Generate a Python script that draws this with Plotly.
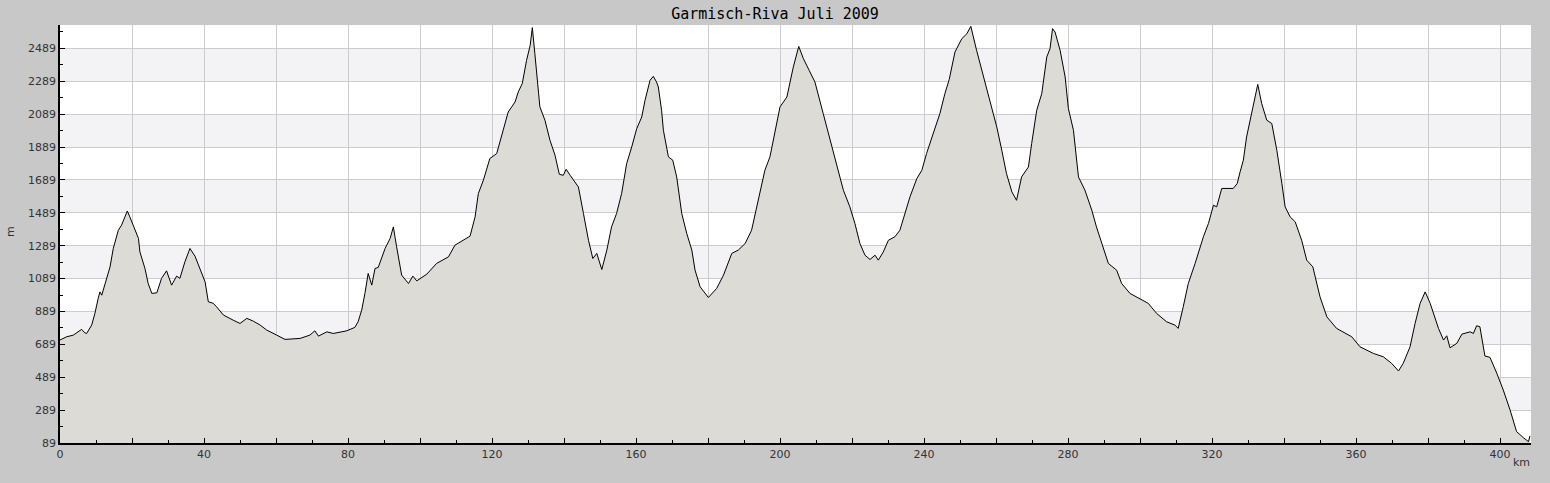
import plotly.graph_objects as go

# distance along the route (km)
km = [0, 1.85, 3.7, 5.6, 6.0, 6.9, 7.4, 8.8, 9.7, 10.6, 11.1, 11.6, 12.5, 13.9, 14.8, 16.2, 17.1, 18.1, 18.7, 19.4,
      20.8, 21.8, 22.2, 23.6, 24.5, 25.5, 26.9, 28.2, 29.6, 31.0, 32.4, 33.3, 34.7, 36.1, 37.5, 38.9, 40.3, 41.2, 42.6, 43.5,
      45.4, 48.1, 50.0, 51.9, 53.7, 55.6, 57.4, 60.2, 62.5, 66.7, 69.4, 70.8, 71.8, 74.1, 75.9, 79.6, 81.9, 82.8, 83.8, 84.7,
      85.6, 86.6, 87.5, 88.4, 90.3, 91.7, 92.6, 93.5, 94.9, 96.8, 98.0, 99.1, 101.9, 104.6, 107.9, 109.7, 111.1, 113.9, 115.3, 116.2,
      117.6, 119.4, 121.3, 122.7, 124.5, 126.4, 127.3, 128.4, 129.6, 130.6, 131.2, 131.9, 133.3, 134.7, 136.1, 137.5, 138.7, 139.8, 140.6, 141.7,
      144.0, 145.4, 146.8, 148.0, 149.1, 150.5, 151.9, 153.2, 154.6, 156.0, 157.4, 158.8, 160.2, 161.6, 162.5, 163.9, 164.8, 165.7, 166.2, 167.1,
      167.6, 169.0, 170.2, 171.3, 172.7, 174.1, 175.5, 176.4, 177.8, 180.1, 182.4, 184.3, 186.6, 188.4, 190.3, 192.1, 193.5, 195.8, 197.2, 198.6,
      200.0, 201.9, 203.7, 205.2, 206.5, 208.1, 209.7, 212.0, 213.9, 215.7, 217.6, 219.4, 220.8, 222.2, 223.6, 225.0, 226.4, 227.3, 228.7, 230.1,
      231.9, 233.3, 234.7, 236.1, 238.0, 239.4, 240.7, 242.6, 244.4, 245.8, 247.0, 248.6, 250.5, 251.9, 253.0, 254.6, 256.5, 258.3, 260.2, 261.6,
      262.9, 264.4, 265.7, 267.1, 269.0, 269.9, 271.3, 272.7, 274.1, 275.0, 275.7, 276.4, 277.8, 279.2, 280.1, 281.5, 282.9, 284.7, 286.6, 287.9,
      289.8, 291.2, 293.5, 294.9, 297.2, 300.0, 302.3, 304.6, 307.4, 309.7, 310.6, 312.0, 313.4, 315.3, 317.6, 319.0, 320.4, 321.3, 322.7, 325.9,
      327.0, 327.8, 328.7, 329.6, 331.0, 332.7, 333.8, 335.2, 336.6, 338.0, 339.4, 340.3, 341.7, 343.1, 344.9, 346.3, 348.0, 350.0, 351.9, 354.6,
      358.8, 361.1, 364.8, 367.6, 369.9, 371.8, 373.1, 375.0, 376.4, 377.8, 379.2, 380.6, 382.9, 384.3, 385.2, 386.1, 388.0, 389.4, 391.7, 392.6,
      393.5, 394.4, 395.8, 397.2, 399.1, 400.9, 402.8, 404.6, 406.5, 407.9, 408.3]

# elevation (m)
elev = [715, 735, 745, 776, 780, 759, 755, 806, 877, 968, 1008, 988, 1059, 1160, 1272, 1383, 1414, 1474, 1500, 1464,
        1383, 1333, 1251, 1150, 1059, 999, 1002, 1090, 1136, 1049, 1104, 1090, 1191, 1272, 1225, 1150, 1069, 948, 938, 917,
        867, 836, 816, 847, 830, 806, 776, 745, 719, 725, 745, 771, 739, 765, 755, 771, 792, 826, 897, 999,
        1120, 1049, 1150, 1157, 1272, 1333, 1403, 1282, 1110, 1059, 1104, 1075, 1116, 1181, 1221, 1292, 1312, 1347, 1464, 1606,
        1687, 1819, 1849, 1960, 2102, 2163, 2224, 2275, 2416, 2507, 2615, 2457, 2133, 2052, 1930, 1839, 1723, 1717, 1754, 1717,
        1646, 1485, 1322, 1211, 1242, 1144, 1262, 1403, 1485, 1606, 1788, 1889, 2001, 2072, 2173, 2295, 2319, 2284, 2254, 2112,
        1991, 1829, 1809, 1707, 1485, 1363, 1262, 1140, 1039, 974, 1029, 1110, 1242, 1262, 1302, 1383, 1525, 1748, 1829, 1971,
        2133, 2193, 2376, 2501, 2426, 2355, 2284, 2092, 1930, 1788, 1626, 1525, 1424, 1302, 1231, 1205, 1231, 1201, 1251, 1322,
        1343, 1383, 1485, 1586, 1697, 1748, 1849, 1971, 2092, 2214, 2300, 2467, 2548, 2578, 2623, 2477, 2315, 2173, 2011, 1869,
        1728, 1616, 1565, 1707, 1768, 1910, 2112, 2214, 2437, 2487, 2609, 2588, 2477, 2315, 2123, 1991, 1707, 1626, 1505, 1403,
        1282, 1181, 1140, 1059, 999, 968, 938, 877, 826, 806, 786, 917, 1059, 1181, 1343, 1424, 1535, 1525, 1637, 1637,
        1667, 1738, 1809, 1950, 2092, 2270, 2153, 2052, 2032, 1869, 1667, 1525, 1464, 1434, 1322, 1201, 1160, 978, 856, 786,
        735, 674, 634, 613, 573, 527, 573, 674, 816, 938, 1008, 938, 786, 715, 741, 668, 695, 751, 765, 755,
        802, 796, 618, 610, 513, 411, 289, 158, 121, 97, 132]

y_ticks = [89, 289, 489, 689, 889, 1089, 1289, 1489, 1689, 1889, 2089, 2289, 2489]
x_ticks = [0, 20, 40, 60, 80, 100, 120, 140, 160, 180, 200, 220, 240, 260, 280, 300, 320, 340, 360, 380, 400]
x_labels = ["0", "", "40", "", "80", "", "120", "", "160", "", "200", "", "240", "", "280", "", "320", "", "360", "", "400"]

X_MAX = 408.6
Y_MAX = 2631

fig = go.Figure()
fig.add_trace(go.Scatter(
    x=km, y=elev, mode="lines", fill="tozeroy",
    line=dict(color="black", width=1),
    fillcolor="#dcdbd6", hoverinfo="x+y", showlegend=False,
))

# alternating horizontal bands
shapes = []
for i in range(1, len(y_ticks) - 1, 2):
    shapes.append(dict(type="rect", xref="paper", yref="y", x0=0, x1=1,
                       y0=y_ticks[i], y1=y_ticks[i + 1],
                       fillcolor="#f3f2f5", line=dict(width=0), layer="below"))

minor_x = [v + 10 for v in x_ticks if v + 10 < X_MAX]
minor_y = [v + 100 for v in y_ticks if v + 100 < Y_MAX]

fig.update_layout(
    width=1550, height=483,
    margin=dict(l=60, r=19, t=25, b=40),
    paper_bgcolor="#c8c8c8",
    plot_bgcolor="white",
    title=dict(text="Garmisch-Riva Juli 2009", x=0.5, xref="container", xanchor="center",
               y=1 - 14 / 483, yref="container", yanchor="middle",
               font=dict(family="DejaVu Sans Mono", size=15, color="black")),
    font=dict(family="DejaVu Sans", size=11, color="#333333"),
    shapes=shapes,
    xaxis=dict(range=[0, X_MAX], tickmode="array", tickvals=x_ticks, ticktext=x_labels,
               showgrid=True, gridcolor="#cccccc", gridwidth=1, zeroline=False,
               showline=True, linecolor="black", linewidth=1.5,
               ticks="inside", ticklen=5, tickcolor="black", tickwidth=1,
               minor=dict(tickvals=minor_x, ticks="inside", ticklen=3, tickcolor="black", showgrid=False),
               tickfont=dict(size=11, color="#333333")),
    yaxis=dict(range=[89, Y_MAX], tickmode="array", tickvals=y_ticks,
               showgrid=True, gridcolor="#cccccc", gridwidth=1, zeroline=False,
               showline=True, linecolor="black", linewidth=1.5,
               ticks="inside", ticklen=5, tickcolor="black", tickwidth=1,
               minor=dict(tickvals=minor_y, ticks="inside", ticklen=3, tickcolor="black", showgrid=False),
               tickfont=dict(size=11, color="#333333")),
    annotations=[
        dict(text="km", xref="paper", yref="paper", x=1 - 10 / 1471, y=-19 / 418, xanchor="center", yanchor="middle",
             showarrow=False, font=dict(size=11, color="#333333")),
        dict(text="m", xref="paper", yref="paper", x=-50 / 1471, y=(443 - 232) / 418, xanchor="center", yanchor="middle",
             textangle=-90, showarrow=False, font=dict(size=11, color="#333333")),
    ],
)

fig.write_html("out.html", config={"responsive": False, "displayModeBar": False},
               post_script="document.body.style.margin='0';document.body.style.padding='0';document.body.style.overflow='hidden';")
